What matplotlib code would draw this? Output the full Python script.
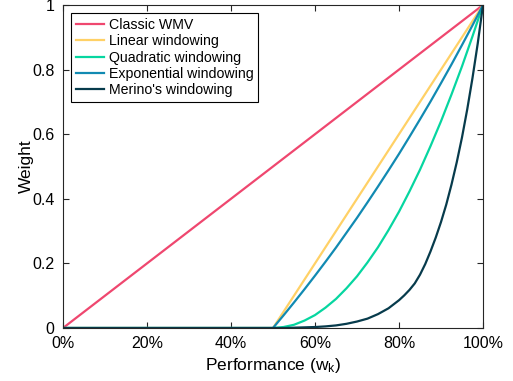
import matplotlib
matplotlib.use("Agg")
import matplotlib.pyplot as plt
from matplotlib.ticker import FuncFormatter

plt.rcParams['font.family'] = ['Liberation Sans', 'DejaVu Sans']
plt.rcParams['mathtext.fontset'] = 'custom'
plt.rcParams['mathtext.rm'] = 'Liberation Sans'
plt.rcParams['mathtext.it'] = 'Liberation Sans'

# x positions (performance) used for the curved series
perf = [0.500, 0.525, 0.550, 0.575, 0.600, 0.625, 0.650, 0.675, 0.700, 0.725,
        0.750, 0.775, 0.800, 0.825, 0.850, 0.875, 0.900, 0.925, 0.950, 0.975, 1.000]

classic_x = [0.0, 1.0]
classic_y = [0.0, 1.0]

linear_x = [0.0, 0.5, 1.0]
linear_y = [0.0, 0.0, 1.0]

quadratic_y = [0.000, 0.003, 0.010, 0.023, 0.040, 0.063, 0.090, 0.123, 0.160, 0.203,
               0.250, 0.303, 0.360, 0.423, 0.490, 0.563, 0.640, 0.723, 0.810, 0.903, 1.000]

exponential_y = [0.000, 0.039, 0.079, 0.120, 0.162, 0.205, 0.249, 0.295, 0.341, 0.389,
                 0.438, 0.488, 0.539, 0.592, 0.646, 0.701, 0.758, 0.816, 0.876, 0.937, 1.000]

# Merino's curve bends hard near the top, so it is read at finer steps there
merino_x = [0.500, 0.525, 0.550, 0.575, 0.600, 0.625, 0.650, 0.675, 0.700, 0.725,
            0.750, 0.775, 0.800, 0.8125, 0.825, 0.8375, 0.850, 0.8625, 0.875, 0.8875,
            0.900, 0.9125, 0.925, 0.9375, 0.950, 0.9625, 0.975, 0.9875, 1.000]
merino_y = [0.000, 0.000, 0.001, 0.002, 0.003, 0.005, 0.008, 0.013, 0.020, 0.029,
            0.043, 0.061, 0.086, 0.101, 0.118, 0.138, 0.165, 0.198, 0.237, 0.280,
            0.328, 0.382, 0.444, 0.513, 0.590, 0.677, 0.774, 0.881, 1.000]

# zero stretch before the window opens
flat_x = [0.0, 0.5]
flat_y = [0.0, 0.0]

fig = plt.figure(figsize=(5.13, 3.81), dpi=100)
ax = fig.add_axes([0.1228, 0.1391, 0.8187, 0.8478])

lw = 1.6
ax.plot(classic_x, classic_y, color='#EF476F', lw=lw, label='Classic WMV')
ax.plot(linear_x, linear_y, color='#FFD166', lw=lw, label='Linear windowing')
ax.plot(flat_x + perf[1:], flat_y + quadratic_y[1:], color='#06D6A0', lw=lw,
        label='Quadratic windowing')
ax.plot(flat_x + perf[1:], flat_y + exponential_y[1:], color='#118AB2', lw=lw,
        label='Exponential windowing')
ax.plot(flat_x + merino_x[1:], flat_y + merino_y[1:], color='#073B4C', lw=lw,
        label="Merino's windowing")

ax.set_xlim(0, 1)
ax.set_ylim(0, 1)
ax.set_xticks([0, 0.2, 0.4, 0.6, 0.8, 1.0])
ax.set_yticks([0, 0.2, 0.4, 0.6, 0.8, 1.0])
ax.xaxis.set_major_formatter(FuncFormatter(lambda v, p: '%d%%' % round(v * 100)))
ax.yaxis.set_major_formatter(FuncFormatter(lambda v, p: '%g' % round(v, 1)))
ax.tick_params(direction='in', top=True, right=True, labelsize=11.5, length=4,
               width=0.8, colors='#262626', labelcolor='black', pad=6)
for s in ax.spines.values():
    s.set_linewidth(0.8)
    s.set_color('#262626')

ax.set_xlabel('Performance (w$_\\mathregular{k}$)', fontsize=12.5, labelpad=3)
ax.set_ylabel('Weight', fontsize=12.5, labelpad=-1)

leg = ax.legend(loc='upper left', fontsize=10.2, fancybox=False, framealpha=1,
                edgecolor='black', handlelength=2.0, handletextpad=0.35,
                labelspacing=0.17, borderpad=0.3, borderaxespad=0.6)
leg.get_frame().set_linewidth(0.8)

fig.savefig('out.png', dpi=100)
